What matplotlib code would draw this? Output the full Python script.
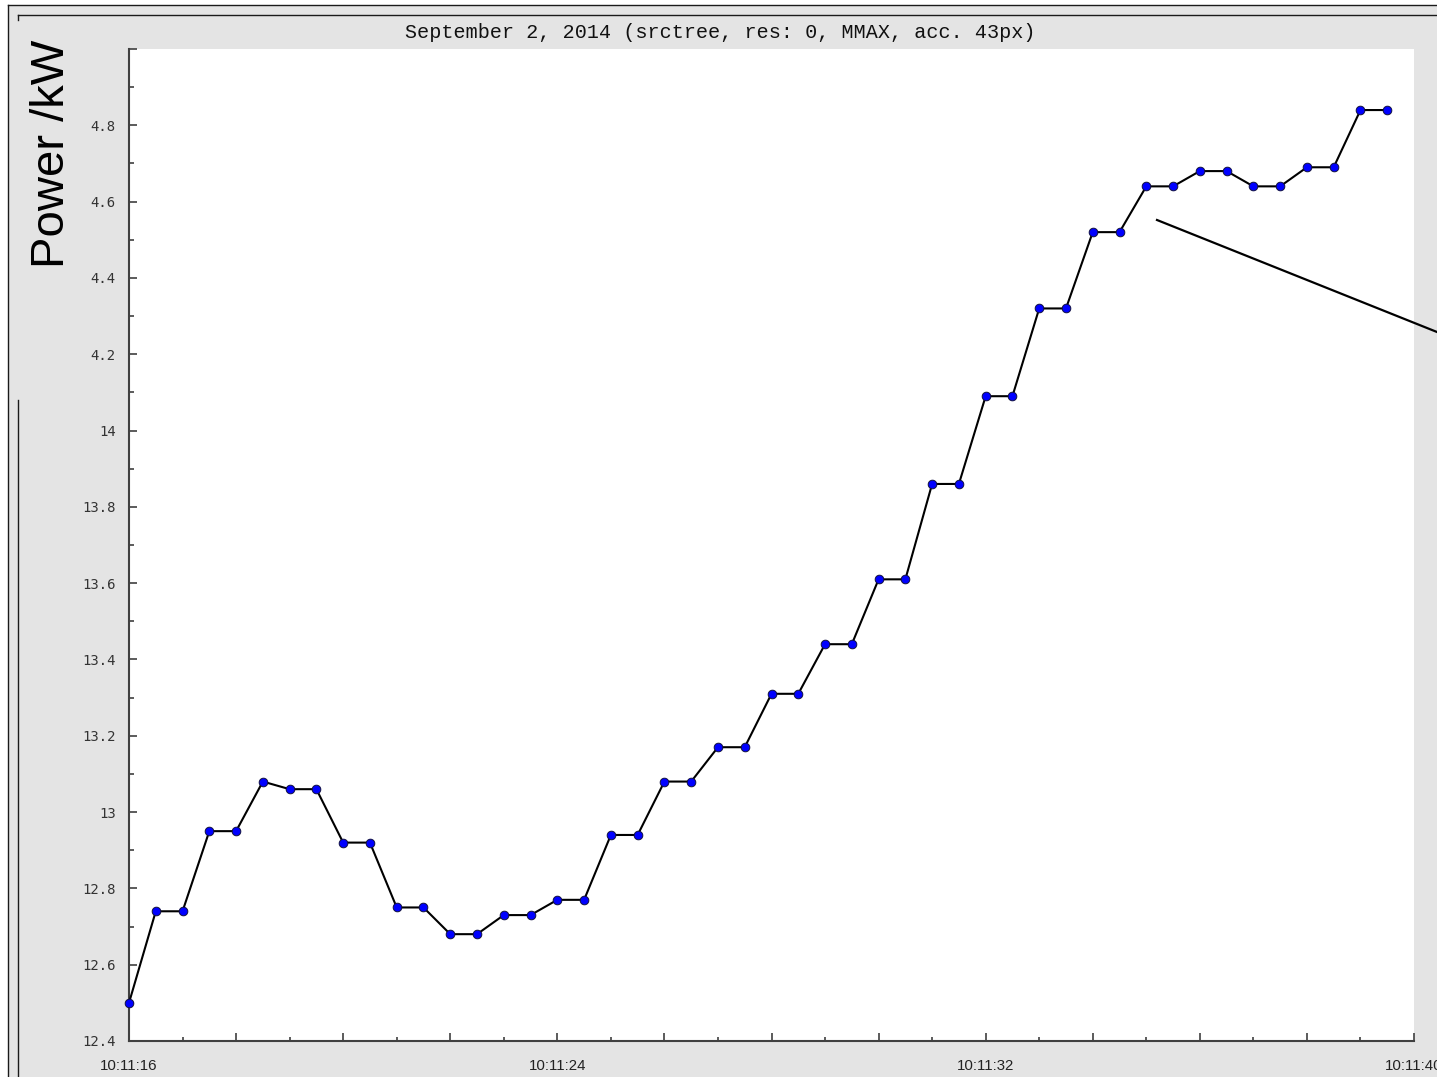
import matplotlib
matplotlib.use("Agg")
import matplotlib.pyplot as plt
from matplotlib.lines import Line2D
from matplotlib.patches import Rectangle
from matplotlib.ticker import FixedLocator, FixedFormatter

# Sample times, seconds after 10:11:16
seconds = [0.0, 0.5, 1.0, 1.5, 2.0, 2.5, 3.0, 3.5, 4.0, 4.5, 5.0, 5.5,
           6.0, 6.5, 7.0, 7.5, 8.0, 8.5, 9.0, 9.5, 10.0, 10.5, 11.0, 11.5,
           12.0, 12.5, 13.0, 13.5, 14.0, 14.5, 15.0, 15.5, 16.0, 16.5, 17.0, 17.5,
           18.0, 18.5, 19.0, 19.5, 20.0, 20.5, 21.0, 21.5, 22.0, 22.5, 23.0, 23.5]

# Power readings in kW
power = [12.50, 12.74, 12.74, 12.95, 12.95, 13.08, 13.06, 13.06, 12.92, 12.92, 12.75, 12.75,
         12.68, 12.68, 12.73, 12.73, 12.77, 12.77, 12.94, 12.94, 13.08, 13.08, 13.17, 13.17,
         13.31, 13.31, 13.44, 13.44, 13.61, 13.61, 13.86, 13.86, 14.09, 14.09, 14.32, 14.32,
         14.52, 14.52, 14.64, 14.64, 14.68, 14.68, 14.64, 14.64, 14.69, 14.69, 14.84, 14.84]

x_tick_pos = [0, 8, 16, 24]
x_tick_labels = ["10:11:16", "10:11:24", "10:11:32", "10:11:40"]
y_tick_pos = [12.4, 12.6, 12.8, 13.0, 13.2, 13.4, 13.6, 13.8, 14.0, 14.2, 14.4, 14.6, 14.8, 15.0]
y_tick_labels = ["12.4", "12.6", "12.8", "13", "13.2", "13.4", "13.6", "13.8",
                 "14", "4.2", "4.4", "4.6", "4.8", ""]

title = "September 2, 2014 (srctree, res: 0, MMAX, acc. 43px)"

W, H, DPI = 1437, 1077, 100
fig = plt.figure(figsize=(W / DPI, H / DPI), dpi=DPI, facecolor="white")


def fx(px):
    return px / W


def fy(py):
    return 1 - py / H


# gray panel and window frame lines
fig.patches.append(Rectangle((fx(8.5), 0), 1 - fx(8.5), fy(5.5), transform=fig.transFigure,
                             facecolor="#e4e4e4", edgecolor="none", zorder=-10))
frame_kw = dict(transform=fig.transFigure, color="#1a1a1a", lw=1.0)
fig.lines.append(Line2D([fx(8), 1], [fy(5), fy(5)], **frame_kw))
fig.lines.append(Line2D([fx(8), fx(8)], [fy(5), 0], **frame_kw))
fig.lines.append(Line2D([fx(18), 1], [fy(15), fy(15)], **frame_kw))
fig.lines.append(Line2D([fx(18), fx(18)], [fy(15), fy(20)], **frame_kw))
fig.lines.append(Line2D([fx(18), fx(18)], [fy(400), 0], **frame_kw))

ax = fig.add_axes([fx(129), fy(1041), fx(1414) - fx(129), fy(49) - fy(1041)])
ax.set_zorder(1)
ax.set_facecolor("white")
ax.plot(seconds, power, color="black", lw=1.5, marker="o", markersize=6.2,
        markerfacecolor="#0000ff", markeredgecolor="#101040", markeredgewidth=0.7,
        clip_on=False, zorder=3)

ax.set_xlim(0, 24)
ax.set_ylim(12.4, 15.0)

for side in ("top", "right"):
    ax.spines[side].set_visible(False)
for side in ("left", "bottom"):
    ax.spines[side].set_color("#404040")
    ax.spines[side].set_linewidth(1.5)

x_major = [0, 2, 4, 6, 8, 10, 12, 14, 16, 18, 20, 22, 24]
ax.xaxis.set_major_locator(FixedLocator(x_major))
ax.xaxis.set_major_formatter(FixedFormatter(
    [x_tick_labels[x_tick_pos.index(v)] if v in x_tick_pos else "" for v in x_major]))
ax.xaxis.set_minor_locator(FixedLocator([1, 3, 5, 7, 9, 11, 13, 15, 17, 19, 21, 23]))
ax.yaxis.set_major_locator(FixedLocator(y_tick_pos))
ax.yaxis.set_major_formatter(FixedFormatter(y_tick_labels))
ax.yaxis.set_minor_locator(FixedLocator([v + 0.1 for v in y_tick_pos[:-1]]))

ax.tick_params(axis="both", which="both", direction="in", color="#404040", width=1.2)
ax.tick_params(axis="x", which="major", length=5.5, pad=13, labelsize=10.8,
               labelcolor="#222222")
ax.tick_params(axis="x", which="minor", length=3.2)
ax.tick_params(axis="y", which="major", length=5.5, pad=9.5, labelsize=10,
               labelcolor="#333333")
ax.tick_params(axis="y", which="minor", length=3.6)
for lbl in ax.get_xticklabels():
    lbl.set_fontfamily("Liberation Sans")
for lbl in ax.get_yticklabels():
    lbl.set_fontfamily("DejaVu Sans Mono")

fig.text(fx(720), fy(33), title, ha="center", va="center",
         fontfamily="Liberation Mono", fontsize=14.5, color="#111111")
fig.text(fx(52), fy(154), "Power /kW", ha="center", va="center", rotation=90,
         fontfamily="Liberation Sans", fontsize=34, color="black")

# pointer line running off the right edge
fig.lines.append(Line2D([fx(1157), fx(1437)], [fy(220), fy(332)],
                        transform=fig.transFigure, color="black", lw=1.6, zorder=5))

fig.savefig("out.png", dpi=DPI, facecolor="white")
